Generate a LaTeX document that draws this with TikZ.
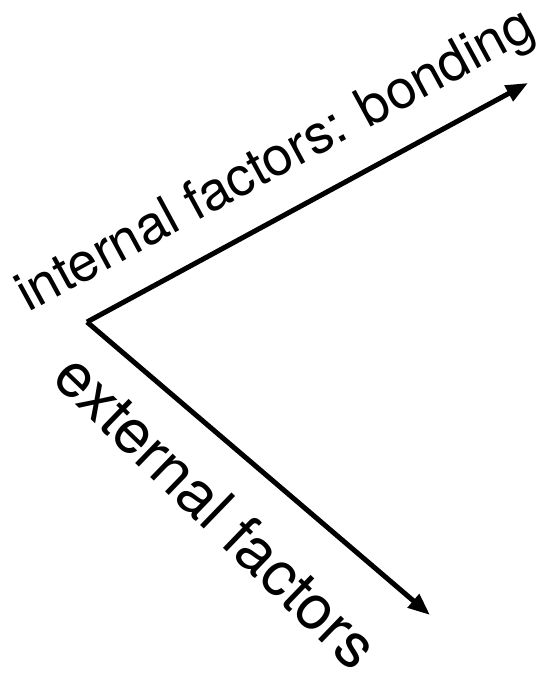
\documentclass[tikz,border=0pt]{standalone}
\usepackage{fontspec}
\setmainfont{TeX Gyre Heros}
\usetikzlibrary{arrows.meta}
\begin{document}
\begin{tikzpicture}[x=1pt,y=-1pt,
  arrowline/.style={line width=5pt,-{Triangle[length=22pt,width=17pt]}},
  label/.style={inner sep=0pt,anchor=base west}]
\useasboundingbox[fill=white] (0,0) rectangle (551,679);
\coordinate (O) at (87,322);
\coordinate (A) at (528,83);
\coordinate (B) at (430,615);
\draw[arrowline] (O) -- (A);
\draw[arrowline] (O) -- (B);
\node[label,rotate=28.5,font=\fontsize{54}{60}\selectfont] (internal) at (28,313) {internal factors: bonding};
\node[label,rotate=-44,font=\fontsize{62}{70}\selectfont] (external) at (50.3,380.5) {external factors};
\end{tikzpicture}
\end{document}
